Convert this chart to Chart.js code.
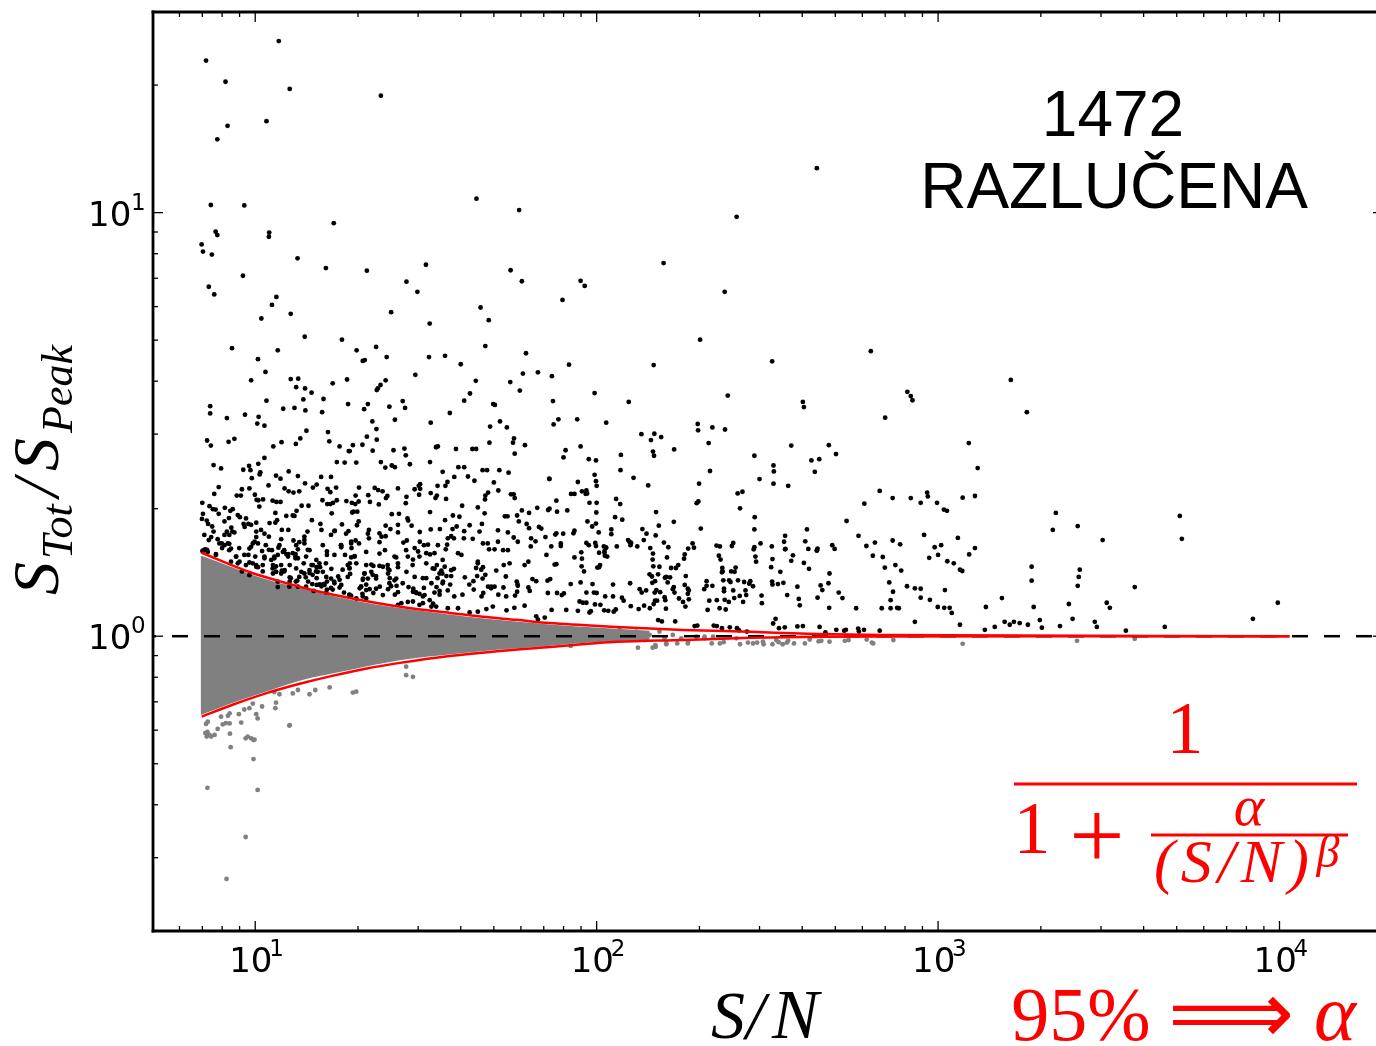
<!DOCTYPE html>
<html><head><meta charset="utf-8">
<style>html,body{margin:0;padding:0;background:#fff;overflow:hidden}canvas{display:block}</style>
<script src="https://cdn.jsdelivr.net/npm/chart.js@4/dist/chart.umd.min.js"></script>
</head><body><div style="width:1376px;height:1046px"><canvas id="c" width="1376" height="1046"></canvas></div>
<script>
// Curves
const upperSN=[6.97,9.62,12,15.1,18.9,23.6,29.7,37.1,46.4,58.3,72.8,114.6,178.6,281,440,689,10700];
const upperRatio=[1.574,1.418,1.343,1.279,1.231,1.192,1.159,1.135,1.111,1.093,1.074,1.052,1.035,1.024,1.012,1.007,1.0];
const lowerSN=[6.97,8.58,10.8,13.5,16.8,21.2,26.5,37.1,52,72.8,114.6,178.6,281,440,689,10700];
const lowerRatio=[.646,.689,.734,.772,.806,.839,.865,.898,.923,.943,.97,.98,.991,.996,.999,1.0];
// The solid centre of the grey cloud (too dense to read dot by dot): its upper and lower limits
const coreSN=[6.92,8.41,10.3,13.5,18.9,26.5,37,52,72.8,102,143];
const coreHi=[1.55,1.463,1.378,1.3,1.221,1.165,1.126,1.092,1.066,1.047,1.03];
const coreLo=[.652,.692,.731,.785,.832,.877,.905,.93,.95,.97,.98];
// Dots: pairs of log10(S/N), log10(S_Tot/S_Peak)
const blackTop=[1.069,1.405,.856,1.359,.913,1.309,1.101,1.292,1.368,1.276,1.033,1.216,.919,1.205,.889,1.173,.870,1.018,.968,1.017,1.648,1.033,1.773,1.006,1.230,.975,.884,.955,.889,.947,1.041,.953,1.040,.943,.843,.925,.847,.908,.873,.901,1.124,.892,1.207,.869,1.327,.863,1.500,.877,.964,.851,1.748,.864,1.443,.837,1.781,.838,.864,.825,.880,.807,1.475,.813,1.062,.801,1.049,.782,1.660,.776,1.398,.765,1.104,.761,1.018,.750,1.684,.746,1.511,.738,2.645,1.105,2.410,.990,2.196,.881,2.375,.813,1.953,.839,1.965,.827,1.900,.794];
const blackUpperLeft=[1.145,.707,1.254,.700,.932,.680,1.066,.675,1.297,.675,1.354,.683,1.674,.685,1.793,.668,1.008,.654,1.315,.650,1.321,.652,1.385,.659,1.509,.659,1.556,.662,1.602,.642,1.030,.624,1.784,.620,1.828,.623,1.469,.617,.988,.604,1.104,.607,1.126,.608,1.269,.606,1.382,.604,1.227,.597,1.646,.603,1.747,.600,1.367,.593,1.359,.585,1.356,.581,1.120,.588,1.146,.585,1.165,.575,1.775,.580,1.629,.573,1.033,.556,1.141,.559,1.200,.560,1.612,.556,1.432,.555,1.272,.548,1.330,.548,1.697,.548,1.702,.546,.868,.543,1.393,.542,1.082,.537,1.115,.539,1.319,.536,1.439,.539,1.147,.533,1.196,.529,.868,.526,.970,.523,1.570,.527,.917,.515,1.010,.518,1.409,.511,1.343,.507,1.006,.502,1.514,.504,1.027,.497,1.717,.507,1.688,.495,1.737,.493,1.355,.489,1.150,.485,1.213,.482,1.327,.471,1.758,.467,1.132,.467,.859,.462,.939,.466,.922,.459,1.217,.460,1.356,.464,1.686,.457,1.755,.457,.870,.450,1.119,.454,1.077,.458,1.053,.448,1.247,.448,1.286,.451,1.314,.452,1.790,.451,1.535,.448,1.530,.447,1.277,.437,1.274,.437,1.530,.446,1.344,.438,1.636,.442,1.437,.443,1.588,.442,1.647,.442,1.760,.431,1.405,.439,1.441,.427,1.027,.421,1.009,.407,1.239,.411,1.262,.410,1.296,.410,1.368,.411,1.453,.406,1.512,.411,.878,.404,.982,.402,.900,.396,.965,.393,.986,.392,1.015,.387,1.013,.382,1.098,.389,1.381,.398,1.400,.403,1.409,.399,1.595,.399,1.612,.399,1.549,.388,1.666,.392,1.679,.392,1.715,.392,1.742,.386,.990,.373,1.061,.379,1.074,.372,1.125,.378,1.193,.376,1.222,.376,1.583,.376,1.623,.377,1.861,.372,1.642,.367,1.699,.363,1.563,.364,1.557,.355,1.534,.355,.893,.352,1.039,.356,1.146,.361,1.180,.358,1.169,.351,1.483,.359,1.479,.355,1.483,.348,1.304,.351,.961,.347,.983,.349,1.086,.349,1.098,.342,1.112,.339,1.129,.342,1.212,.348,1.220,.340,1.237,.351,1.350,.350,1.360,.345,1.373,.342,1.418,.349,1.467,.347,1.712,.344,.880,.336,.946,.332,.958,.332,.999,.334,1.294,.332,1.331,.333,1.387,.331,1.383,.326,1.443,.329,1.480,.334,1.514,.338,1.532,.332,1.528,.326,1.559,.324,1.682,.339,1.674,.332,1.749,.335,1.757,.335,1.760,.326,1.673,.323];
const blackLowerLeft=[.845,.315,1.004,.322,1.009,.321,1.023,.323,1.051,.320,1.062,.317,1.074,.317,1.197,.321,1.239,.321,1.267,.319,1.283,.315,1.303,.318,1.336,.317,1.441,.314,1.211,.312,1.220,.312,1.228,.315,.866,.307,.876,.300,.884,.299,.911,.303,.934,.300,1.012,.306,1.136,.308,1.156,.308,1.293,.312,1.362,.311,1.606,.308,1.652,.304,1.826,.303,.927,.296,.893,.289,1.059,.291,1.121,.296,1.224,.290,1.284,.292,1.299,.294,1.288,.294,1.400,.288,1.421,.289,1.512,.293,1.672,.290,1.781,.297,1.858,.298,.847,.289,.949,.286,1.110,.285,1.091,.284,1.115,.284,.923,.279,.955,.281,.973,.278,.910,.271,.844,.277,.858,.273,1.064,.274,1.059,.268,1.166,.274,1.303,.271,1.446,.278,1.448,.273,1.556,.274,1.579,.285,1.598,.282,1.731,.283,1.739,.283,1.767,.285,1.802,.291,1.772,.271,.862,.265,.874,.259,.966,.265,.980,.265,.988,.263,1.003,.268,1.042,.267,1.191,.265,1.254,.264,1.298,.262,1.382,.261,1.418,.263,1.458,.261,1.590,.259,1.628,.262,1.664,.265,1.795,.265,1.831,.258,1.838,.254,.878,.247,.930,.256,.933,.247,.969,.258,1.078,.251,1.097,.251,1.153,.247,1.194,.251,1.233,.249,1.232,.248,1.273,.248,1.396,.253,1.418,.245,1.482,.246,1.514,.252,1.541,.253,1.578,.253,1.612,.248,1.657,.247,1.711,.250,1.740,.245,1.802,.255,.851,.239,.871,.234,.910,.239,.924,.239,.939,.245,.917,.247,1.003,.247,1.017,.251,1.027,.242,1.003,.234,1.040,.235,.864,.227,.890,.229,.902,.219,.920,.219,.998,.223,1.008,.219,1.076,.229,1.112,.226,1.144,.235,1.144,.227,1.129,.222,1.222,.239,1.266,.242,1.251,.215,1.281,.223,1.294,.226,1.304,.219,1.333,.251,1.330,.242,1.333,.231,1.364,.243,1.370,.235,1.364,.222,1.382,.236,1.444,.226,1.434,.221,1.482,.223,1.506,.216,1.535,.215,1.564,.231,1.574,.236,1.582,.231,1.562,.216,1.611,.231,1.637,.230,1.667,.219,1.681,.219,1.711,.223,1.757,.233,1.769,.223,1.808,.231,1.821,.224,1.850,.234,1.807,.212,.853,.205,.846,.200,.859,.204,.885,.194,.903,.208,.924,.203,.953,.208,.988,.211,1.020,.201,1.040,.204,1.049,.203,1.068,.209,1.085,.203,1.097,.194,1.125,.205,1.154,.204,1.210,.200,1.252,.210,1.282,.208,1.380,.203,1.467,.208,1.477,.200,1.512,.193,1.558,.205,1.594,.196,1.604,.192,1.685,.205,1.701,.205,1.726,.203,1.740,.203,1.853,.192,.944,.188,.980,.192,1.000,.188,1.027,.188,1.056,.188,1.091,.194,1.118,.194,1.118,.188,1.118,.184,1.210,.192,1.263,.192,1.281,.186,1.291,.189,1.413,.186,1.447,.188,1.462,.181,1.481,.188,1.549,.180,1.652,.172,1.652,.176,1.728,.168,1.745,.172,1.789,.168,1.800,.176,.929,.176,.949,.172,.983,.174,1.003,.168,1.008,.163,1.052,.168,1.056,.163,1.076,.168,1.101,.168,1.142,.172,1.165,.168,1.180,.163,1.190,.163,1.207,.172,1.223,.159,1.256,.157,1.276,.161,1.277,.172,1.325,.168,1.340,.169,1.346,.166,1.364,.166,1.388,.168,1.389,.159,1.418,.163,1.461,.168,1.501,.172,1.525,.159,1.532,.168,1.520,.160,1.545,.155,1.574,.156,1.582,.159,1.647,.161,1.662,.157,1.667,.163,1.706,.155,1.674,.145,.961,.153,.983,.144,1.022,.153,1.052,.148,1.078,.155,1.085,.153,1.061,.165,1.061,.152,1.101,.139,1.104,.137,1.129,.140,1.148,.139,1.159,.149,1.168,.145,1.178,.153,1.180,.137,1.243,.141,1.278,.147,1.316,.136,1.320,.148,1.344,.145,1.354,.142,1.394,.137,1.413,.136,1.491,.137,1.501,.137,1.534,.137,1.548,.148,1.560,.142,1.574,.142,1.614,.139,1.650,.142,1.666,.136,1.734,.141,1.812,.135,1.766,.129,1.823,.130,1.864,.135,1.066,.129,1.101,.129,1.123,.131,1.119,.129,1.155,.129,1.167,.123,1.180,.121,1.188,.122,1.231,.129,1.210,.129,1.200,.123,1.203,.121,1.310,.117,1.325,.122,1.365,.117,1.398,.118,1.414,.119,1.463,.112,1.531,.116,1.571,.122,1.627,.122,1.639,.130,1.682,.117,1.691,.113,1.727,.115,1.768,.123,1.800,.115,1.856,.131,1.066,.116,1.100,.117,1.125,.117,1.149,.117,1.190,.122,1.194,.118,1.210,.110,1.222,.114,1.247,.115,1.310,.117,1.335,.111,1.354,.112,1.389,.111,1.418,.104,1.449,.116,1.494,.114,1.540,.107,1.564,.108,1.640,.110,1.668,.102,1.701,.117,1.691,.117,1.769,.119,1.767,.105,1.171,.107,1.208,.103,1.227,.110,1.260,.103,1.276,.098,1.314,.100,1.346,.102,1.409,.098,1.470,.104,1.481,.100,1.491,.094,1.525,.103,1.540,.098,1.607,.098,1.583,.094,1.663,.094,1.712,.098,1.735,.094,1.761,.096,1.804,.107,1.857,.102,1.315,.094,1.281,.095,1.428,.078,1.462,.082,1.491,.078,1.516,.070,1.564,.066,1.594,.066,1.628,.056,1.652,.058,1.677,.064,1.696,.070,1.736,.061,1.759,.067,1.789,.072,1.823,.047,1.868,.062,1.848,.044,1.828,.039];
const blackNearCurve=[.851,.203,.861,.199,.846,.202,.895,.219,.910,.215,.924,.218,.929,.207,.885,.192,.944,.188,.968,.192,.954,.176,.973,.168,.993,.172,1.003,.164,1.027,.184,1.022,.168,1.047,.180,1.056,.184,1.051,.160,1.066,.192,1.081,.199,1.096,.188,1.086,.156,1.061,.152,1.076,.148,1.110,.196,1.125,.184,1.120,.160,1.135,.152,1.144,.148,1.159,.156,1.169,.168,1.179,.180,1.188,.172,1.183,.152,1.198,.152,1.208,.140,1.222,.136,1.232,.125,1.247,.133,1.252,.121,1.271,.140,1.276,.160,1.296,.172,1.320,.148,1.330,.136,1.315,.133,1.306,.113,1.325,.109,1.340,.152,1.354,.136,1.374,.164,1.389,.148,1.408,.132,1.393,.156,1.418,.172,1.432,.125,1.462,.105,1.472,.102,1.496,.097,1.511,.085,1.521,.077,1.530,.070,1.516,.125,1.540,.148,1.550,.129,1.555,.164,1.549,.125,1.467,.140,1.443,.152,1.393,.125,1.276,.097,1.296,.089,1.325,.089,1.374,.097,1.418,.074,1.447,.081,1.481,.074,1.271,.168,1.291,.188,1.325,.199,1.364,.195,1.408,.188,1.442,.203,1.494,.215,1.501,.196,1.525,.196,1.149,.188,1.159,.203,1.198,.215,1.232,.192,1.252,.215,1.281,.219,1.031,.215,.983,.207,.993,.219,1.071,.215,1.120,.215,1.144,.219];
const blackMiddle=[2.303,.700,2.803,.673,1.919,.641,2.167,.640,2.514,.649,1.869,.614,1.994,.574,2.384,.568,2.910,.577,2.920,.567,2.925,.557,1.872,.555,2.094,.553,2.604,.553,2.607,.541,2.845,.516,1.888,.512,1.943,.512,1.874,.500,2.028,.504,2.296,.501,2.297,.486,2.339,.493,2.376,.488,2.131,.477,2.169,.478,2.189,.470,2.159,.463,1.953,.448,2.328,.456,2.570,.450,2.680,.451,1.909,.439,2.227,.441,2.165,.436,2.168,.426,2.071,.428,2.701,.430,1.903,.422,1.977,.418,1.998,.415,2.462,.426,2.629,.415,2.652,.418,2.518,.403,2.519,.389,2.639,.388,2.070,.392,2.332,.390,1.994,.381,2.108,.374,2.477,.371,1.862,.371,1.945,.364,1.998,.366,2.000,.355,2.300,.360,2.518,.360,2.151,.356,2.561,.355,1.957,.342,1.970,.344,1.972,.337,1.968,.336,1.925,.336,1.935,.336,2.413,.337,2.427,.341,2.829,.343,2.968,.339,2.867,.326,2.920,.326,2.057,.324,2.069,.312,1.882,.320,1.979,.315,2.000,.315,2.298,.318,2.293,.314,2.784,.313,2.997,.315,1.884,.294,1.862,.301,1.914,.297,2.174,.293,1.999,.292,2.420,.302,3.026,.296,2.054,.281,2.075,.275,2.463,.281,1.973,.271,1.998,.266,1.987,.259,2.226,.270,2.182,.261,2.732,.272,2.043,.252,2.462,.252,2.305,.254,2.616,.252,1.935,.249,1.932,.243,1.882,.243,2.006,.245,2.043,.241,2.134,.253,2.146,.242,2.173,.238,2.959,.239,2.552,.237,2.767,.237,1.879,.240,1.902,.242,1.970,.220,1.996,.220,2.096,.223,2.099,.215,2.101,.220,2.092,.227,2.138,.227,2.400,.220,2.549,.223,2.611,.224,2.690,.215,2.815,.221,2.867,.226,2.197,.221,2.480,.219,1.977,.215,2.021,.212,2.059,.212,2.119,.212,2.281,.219,1.867,.212,1.895,.219,1.895,.213,1.998,.213,2.027,.209,2.028,.209,2.210,.210,2.396,.213,2.462,.210,2.513,.212,2.620,.206,2.647,.207,2.790,.213,2.889,.217,3.009,.215,2.157,.208,2.285,.209,2.351,.214,2.361,.212,2.553,.206,2.460,.205,2.268,.207,2.552,.205,2.645,.203,2.645,.202,2.697,.206,2.990,.210,1.955,.198,2.007,.197,2.023,.201,2.023,.197,2.258,.193,2.165,.195,2.358,.190,2.465,.188,2.575,.191,2.809,.190,2.838,.187,2.974,.185,3.000,.192,3.091,.193,1.935,.186,1.957,.183,2.024,.190,2.031,.188,2.256,.183,2.164,.181,2.206,.186,2.363,.181,2.515,.182,2.467,.176,2.570,.178,2.607,.173,2.875,.168,2.844,.162,3.046,.172,3.027,.177,1.882,.170,1.877,.169,2.010,.168,2.166,.165,2.184,.164,2.239,.168,1.956,.165,2.002,.162,2.007,.163,2.218,.161,2.232,.161,2.368,.161,2.407,.162,2.367,.151,2.404,.152,2.511,.163,2.538,.152,2.622,.159,2.682,.148,2.892,.155,3.071,.154,1.963,.153,2.155,.146,2.180,.146,2.162,.141,2.200,.138,2.215,.139,2.261,.142,2.322,.130,2.369,.153,2.394,.153,2.414,.132,2.432,.128,2.450,.130,2.371,.132,2.388,.132,2.447,.124,2.514,.129,2.547,.126,1.924,.123,1.988,.123,2.048,.122,2.098,.125,1.953,.127,2.171,.130,2.163,.126,2.204,.140,2.208,.127,2.175,.109,2.226,.116,2.267,.112,2.322,.119,2.339,.119,2.258,.121,2.373,.112,2.392,.128,2.458,.118,2.515,.122,2.531,.123,2.588,.117,2.656,.120,2.679,.125,2.857,.127,2.932,.113,2.909,.118,2.949,.112,2.145,.108,2.126,.111,2.132,.103,2.186,.104,2.170,.103,2.223,.111,2.228,.103,2.270,.108,2.267,.100,2.315,.111,2.373,.106,2.400,.108,2.436,.108,2.661,.109,2.709,.103,2.868,.105,1.884,.102,1.904,.101,1.898,.097,1.970,.103,1.992,.103,2.000,.102,2.048,.094,2.025,.094,2.074,.091,2.079,.084,2.177,.084,2.201,.085,2.270,.087,2.330,.084,2.375,.086,2.419,.095,2.403,.090,2.352,.085,2.592,.088,2.558,.097,2.438,.097,2.483,.096,2.647,.091,2.720,.090,2.861,.085,2.949,.091,1.970,.079,1.960,.079,1.950,.082,1.995,.075,2.011,.074,2.100,.071,2.167,.076,2.171,.084,2.253,.081,2.199,.092,2.241,.089,2.260,.070,2.387,.081,2.429,.081,2.484,.078,2.595,.073,2.681,.067,2.760,.066,2.835,.066,2.861,.066,2.880,.067,2.885,.066,3.018,.067,3.034,.067,2.139,.072,2.156,.066,2.123,.064,2.056,.063,2.203,.065,2.360,.066,2.378,.063,2.325,.062,1.945,.060,1.911,.062,2.022,.061,2.034,.060,2.050,.058,1.983,.059,1.979,.056,2.180,.038,2.191,.035,2.230,.035,2.287,.024,2.295,.025,2.367,.019,2.390,.021,2.343,.025,2.352,.024,2.411,.019,2.524,.041,2.517,.030,2.588,.023,2.604,.024,2.653,.022,2.702,.015,2.730,.015,2.766,.018,2.829,.013,2.783,.015,2.768,.011,2.551,.021,2.534,.019,2.417,.014,2.440,.011,2.670,.009,2.725,.013];
const blackRight=[3.213,.605,3.260,.529,3.090,.456,3.116,.397,3.108,.331,3.072,.327,3.017,.299,2.970,.330,2.949,.315,3.345,.291,3.708,.284,3.336,.251,3.409,.260,3.714,.230,3.482,.227,3.058,.232,3.108,.208,3.274,.164,3.274,.131,3.415,.157,3.412,.140,3.409,.119,3.576,.116,3.494,.079,3.503,.067,3.383,.076,3.394,.041,3.459,.034,3.465,.022,3.550,.013,3.664,.022,3.922,.041,3.995,.079,3.280,.069,3.187,.090,3.140,.069,3.195,.034,3.239,.031,3.210,.027,3.137,.015,3.304,.020,3.357,.024,3.298,.038,3.166,.022,3.222,.034,3.263,.027,3.064,.157,3.020,.109,3.040,.055,3.064,.027,2.999,.069,2.976,.086,2.932,.034];
const greyOutliers=[.861,-.202,.856,-.207,.900,-.190,.925,-.182,.920,-.188,.952,-.184,.968,-.173,.983,-.170,.993,-.159,1.003,-.184,1.007,-.194,1.020,-.166,1.059,-.170,1.061,-.157,1.071,-.137,1.110,-.135,1.125,-.127,1.159,-.137,1.176,-.127,1.218,-.121,1.286,-.133,1.442,-.092,1.442,-.072,1.100,-.211,.925,-.206,.905,-.208,.890,-.219,.854,-.229,.858,-.237,.871,-.237,.881,-.233,.926,-.230,.959,-.204,.978,-.237,.988,-.241,.998,-.244,1.032,-.123,1.044,-.119,1.198,-.085,1.208,-.084,.860,-.358,.995,-.290,1.007,-.363,.972,-.474,.916,-.573,.866,-.233,.860,-.226,.928,-.262,.972,-.241,.995,-.245,1.101,-.210,1.296,-.131,.914,-.205,1.056,-.132,1.462,-.096];
const greyUpperEdge=[1.889,.015,1.891,-.005,1.911,.015,1.930,-.012,1.955,.011,1.970,-.008,1.989,.007,2.009,-.012,2.028,.007,2.053,-.005,2.067,.015,2.092,-.005,2.116,.011,2.141,-.009,2.155,.003,2.184,.011,2.199,-.005,2.223,.003,2.248,-.005,2.292,-.001,2.316,-.005,2.341,-.001];
const greyLowerEdge=[1.120,-.068,1.149,-.066,1.178,-.060,1.198,-.066,1.227,-.058,1.257,-.056,1.276,-.052,1.315,-.050,1.354,-.045,1.384,-.045,1.432,-.037,1.471,-.033,1.511,-.029,1.550,-.025,1.894,-.006,1.924,-.023,1.960,-.015,2.121,-.027,2.172,-.021,2.204,-.017,2.267,-.017,2.337,-.017,2.420,-.019,2.443,-.015,2.489,-.019,2.545,-.019,2.557,-.015,2.578,-.017];
const greyRight=[2.164,-.027,2.173,-.025,2.204,-.019,2.236,-.017,2.268,-.013,2.316,-.001,2.361,-.017,2.372,-.014,2.409,-.005,2.458,-.017,2.470,-.015,2.487,-.013,2.515,-.019,2.526,-.009,2.561,-.011,2.610,-.017,2.624,-.008,2.658,-.011,2.682,-.013,2.727,-.011,2.791,-.008,2.810,-.017,2.869,-.009,3.072,-.018,3.407,-.011,3.576,-.006,2.806,-.015,2.738,-.009,2.650,-.012,2.533,-.014];
const xMajor=[10,100,1000,10000], xMinor=[6,7,8,9,20,30,40,50,60,70,80,90,200,300,400,500,600,700,800,900,2000,3000,4000,5000,6000,7000,8000,9000];
const yMajor=[1,10], yMinor=[.3,.4,.5,.6,.7,.8,.9,2,3,4,5,6,7,8,9,20];
const xTickExp=['1','2','3','4'], yTickExp=['0','1'];
function pts(a,b){return a.map((v,i)=>({x:v,y:b[i]}));}
function pairs(f){const o=[];for(let i=0;i<f.length;i+=2)o.push({x:Math.pow(10,f[i]),y:Math.pow(10,f[i+1])});return o;}
const overlay={id:'overlay',afterDraw(chart){
 const c=chart.ctx,X=chart.scales.x,Y=chart.scales.y,a=chart.chartArea;
 c.save();
 const R=1383;
 c.strokeStyle='#000';c.lineWidth=1.3;
 const seg=(x1,y1,x2,y2)=>{c.beginPath();c.moveTo(x1,y1);c.lineTo(x2,y2);c.stroke();};
 const xt=(v,l)=>{const p=X.getPixelForValue(v);seg(p,a.bottom,p,a.bottom-l);seg(p,a.top,p,a.top+l);};
 const yt=(v,l)=>{const p=Y.getPixelForValue(v);seg(a.left,p,a.left+l,p);seg(R,p,R-l,p);};
 xMajor.forEach(v=>xt(v,10));xMinor.forEach(v=>xt(v,5));yMajor.forEach(v=>yt(v,10));yMinor.forEach(v=>yt(v,5));
 c.lineWidth=2.8;c.lineCap='square';
 seg(a.left,a.top,R,a.top);seg(a.left,a.top,a.left,a.bottom);seg(a.left,a.bottom,R,a.bottom);
 c.textBaseline='alphabetic';
 const T=(s,x,y,f,al,col,sp)=>{c.font=f;c.textAlign=al||'left';c.fillStyle=col||'#000';c.letterSpacing=sp||'0px';c.fillText(s,x,y);c.letterSpacing='0px';};
 const tick='34px "DejaVu Sans"',exp='23px "DejaVu Sans"';
 xMajor.forEach((v,i)=>{const p=X.getPixelForValue(v);T('10',p-26,972,tick);T(xTickExp[i],p+14,956,exp);});
 yMajor.forEach((v,i)=>{const p=Y.getPixelForValue(v);T('10',88,p+13,tick);T(yTickExp[i],131,p-3,exp);});
 T('1472',1113,136,'64px "Liberation Sans"','center');
 T('RAZLUČENA',1114,208,'64px "Liberation Sans"','center');
 T('S',711,1038,'italic 68px "Liberation Serif"');T('/',746,1038,'italic 68px "Liberation Serif"');T('N',772,1038,'italic 70px "Liberation Serif"');
 c.save();c.translate(58,595);c.rotate(-Math.PI/2);
 const L='italic 66px "Liberation Serif"',S='italic 44px "Liberation Serif"';
 T('S',0,0,L);T('Tot',36,14,S);T('/',98,0,L);T('S',124,0,L);T('Peak',162,14,S);c.restore();
 const red='#f00',N='"Liberation Serif"';
 T('1',1185,753,'74px '+N,'center',red);
 c.fillStyle=red;c.fillRect(1014,782.5,343,3);c.fillRect(1151,833.5,197,3);
 T('1',1032,853,'74px '+N,'center',red);
 T('+',1097,868,'98px '+N,'center',red);
 T('α',1249,825,'italic 58px '+N,'center',red);
 T('(S/N)',1154,882,'italic 62px '+N,'left',red,'6px');
 T('β',1328,867,'italic 46px '+N,'center',red);
 T('95%',1081,1040,'76px '+N,'center',red);
 T('⟹',1231,1043,'88px "DejaVu Sans"','center',red);
 T('α',1335,1040,'italic 80px '+N,'center',red);
 c.restore();
}};
const dot={pointRadius:2.4,borderWidth:0,pointBorderWidth:0};
new Chart(document.getElementById('c'),{type:'scatter',
 data:{datasets:[
  {label:'grey centre upper',data:pts(coreSN,coreHi),showLine:true,fill:'+1',backgroundColor:'#808080',borderWidth:0,pointRadius:0,cubicInterpolationMode:'monotone',order:12},
  {label:'grey centre lower',data:pts(coreSN,coreLo),showLine:true,borderWidth:0,pointRadius:0,cubicInterpolationMode:'monotone',order:11},
  {label:'grey upper',data:pairs(greyUpperEdge),backgroundColor:'#808080',...dot,order:10},
  {label:'grey lower',data:pairs(greyLowerEdge),backgroundColor:'#808080',...dot,order:10},
  {label:'grey outliers',data:pairs(greyOutliers),backgroundColor:'#808080',...dot,order:10},
  {label:'grey right',data:pairs(greyRight),backgroundColor:'#808080',...dot,order:10},
  {label:'black top',data:pairs(blackTop),backgroundColor:'#000',...dot,order:6},
  {label:'black upper left',data:pairs(blackUpperLeft),backgroundColor:'#000',...dot,order:6},
  {label:'black lower left',data:pairs(blackLowerLeft),backgroundColor:'#000',...dot,order:6},
  {label:'black near curve',data:pairs(blackNearCurve),backgroundColor:'#000',...dot,order:6},
  {label:'black middle',data:pairs(blackMiddle),backgroundColor:'#000',...dot,order:6},
  {label:'black right',data:pairs(blackRight),backgroundColor:'#000',...dot,order:6},
  {label:'unity',data:[{x:5.019,y:1},{x:19170,y:1}],showLine:true,borderColor:'#000',borderWidth:2.5,borderDash:[16,16],borderDashOffset:13,pointRadius:0,order:5},
  {label:'upper',data:pts(upperSN,upperRatio),showLine:true,borderColor:'#f00',borderWidth:2.5,pointRadius:0,cubicInterpolationMode:'monotone',order:1},
  {label:'lower',data:pts(lowerSN,lowerRatio),showLine:true,borderColor:'#f00',borderWidth:2.5,pointRadius:0,cubicInterpolationMode:'monotone',order:1}
 ]},
 options:{responsive:false,animation:false,devicePixelRatio:1,layout:{autoPadding:false,padding:{left:153,right:0,top:12,bottom:115}},
  plugins:{legend:{display:false},tooltip:{enabled:false}},
  scales:{x:{display:false,bounds:'data',type:'logarithmic',min:5.019,max:19170},
          y:{display:false,bounds:'data',type:'logarithmic',min:0.2014,max:29.76}}},
 plugins:[overlay]});
</script></body></html>
